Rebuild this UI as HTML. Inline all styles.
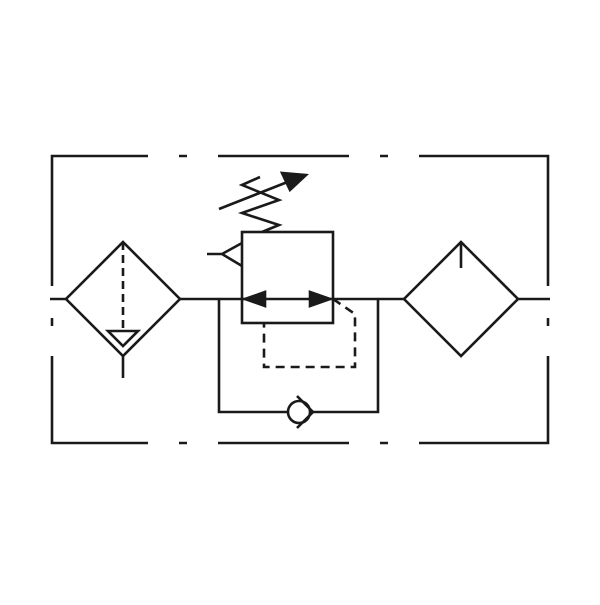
<!DOCTYPE html><html><head><style>body{margin:0;background:#fff}</style></head><body>
<svg width="600" height="600" viewBox="0 0 600 600" xmlns="http://www.w3.org/2000/svg" fill="none" stroke="#1a1a1a" stroke-width="2.6">
<path d="M148 156H52V286M52 318V326M52 356V443H148M179 156H187M218 156H349M380 156H388M419 156H548V286M548 318V326M548 356V443H419M388 443H380M349 443H218M187 443H179"/>
<path d="M50 299H66M180 299H404M518 299H550"/>
<path d="M123 242L180 299L123 356L66 299Z"/>
<path d="M123 242V330" stroke-dasharray="8,5"/>
<path d="M108 331H138L123 346Z"/>
<path d="M123 356V378"/>
<path d="M461 242L518 299L461 356L404 299Z"/>
<path d="M461 242V268"/>
<rect x="242" y="232" width="91" height="91"/>
<path d="M262 232L279 225L242 213L279 200L242 185L260 177"/>
<path d="M219 209L290 181"/>
<path d="M306 175L282 173L290 190Z" fill="#1a1a1a"/>
<path d="M207 254H222M242 243L222 254L242 266"/>
<path d="M245 299L265 292V306Z M330 299L310 292V306Z" fill="#1a1a1a"/>
<path d="M333 299L355 314V367H264V323" stroke-dasharray="9,6"/>
<path d="M219 299V412H288M310 412H378V299"/>
<circle cx="299" cy="412" r="11"/>
<path d="M297 396L313 412L297 428"/>
</svg>
</body></html>
